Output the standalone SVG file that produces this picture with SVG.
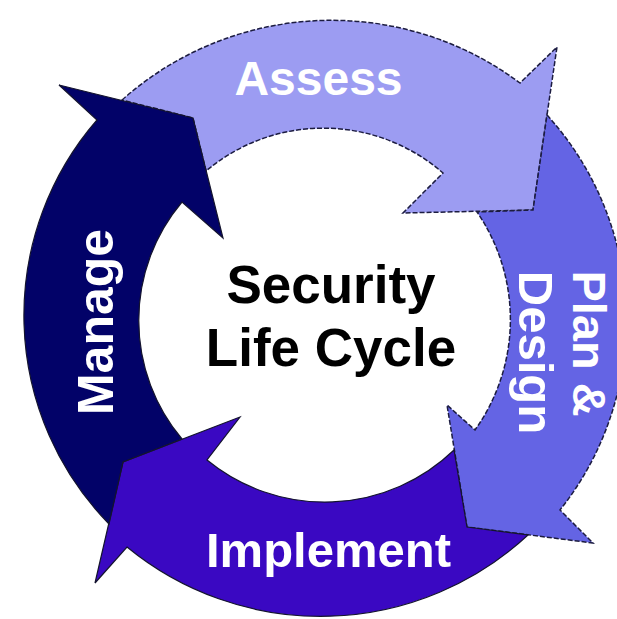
<svg xmlns="http://www.w3.org/2000/svg" width="617" height="619" viewBox="0 0 617 619">
<style>
  .lbl { font-family: "Liberation Sans", Arial, sans-serif; font-weight: bold; fill: #ffffff; }
  .center { font-family: "Liberation Sans", Arial, sans-serif; font-weight: bold; fill: #000000; font-size: 53px; text-anchor: middle; }
  .dashed { stroke: #1c1c40; stroke-width: 1.5; stroke-dasharray: 5 2; stroke-linejoin: miter; }
  .solid { stroke: #14142e; stroke-width: 1.2; stroke-linejoin: miter; }
</style>
<rect width="617" height="619" fill="#ffffff"/>
<g id="connectors"/>
<g id="assess">
  <path class="dashed" fill="#9c9cf2" d="M122,100 A315,315 0 0 1 520,83 L557,47 L533,210 L403,213 L443,173 A182,182 0 0 0 206,171 L193,118 Z"/>
  <text class="lbl" x="318.5" y="95" font-size="48" text-anchor="middle">Assess</text>
</g>
<g id="plan-design">
  <path class="dashed" fill="#6464e4" d="M547,115 A305,305 0 0 1 560,510 L593,543 L467,527 L447,405 L475,430 A190,190 0 0 0 477,212 L533,210 Z"/>
  <text class="lbl" font-size="47" text-anchor="middle" transform="translate(573,343.5) rotate(90)">Plan &amp;</text>
  <text class="lbl" font-size="49" text-anchor="middle" transform="translate(519,352.5) rotate(90)">Design</text>
</g>
<g id="implement">
  <path class="solid" fill="#3a08c2" d="M528,535 A305,305 0 0 1 127,547 L95,583 L123,462 L240,417 L207,460 A186,186 0 0 0 454,450 L467,527 Z"/>
  <text class="lbl" x="328.5" y="567" font-size="49" text-anchor="middle">Implement</text>
</g>
<g id="manage">
  <path class="solid" fill="#020268" d="M109,524 A298,298 0 0 1 97,120 L59,85 L193,118 L223,238 L182,202 A184,184 0 0 0 182,439 L123,462 Z"/>
  <text class="lbl" font-size="50" text-anchor="middle" transform="translate(113,322) rotate(-90)">Manage</text>
</g>
<g id="security-life-cycle">
  <text class="center" x="331" y="303">Security</text>
  <text class="center" x="331" y="366">Life Cycle</text>
</g>
</svg>
